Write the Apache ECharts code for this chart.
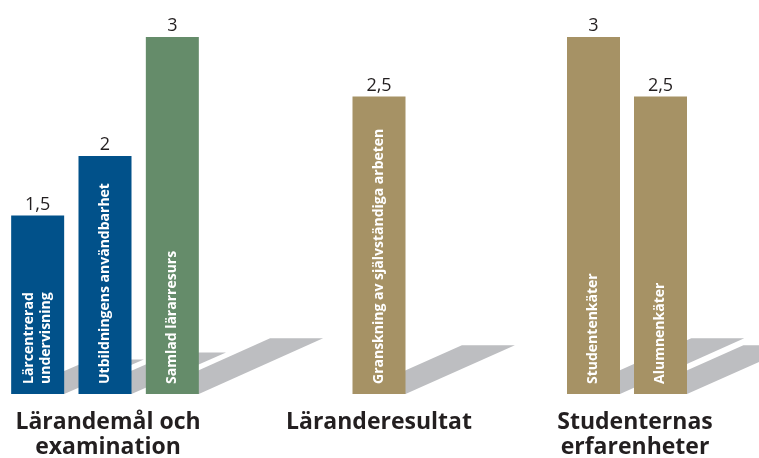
<!DOCTYPE html>
<html>
<head>
<meta charset="utf-8">
<script src="https://cdn.jsdelivr.net/npm/echarts@6/dist/echarts.min.js"></script>
<style>
  html, body { margin: 0; padding: 0; background: #fff; }
  #chart { width: 759px; height: 458px; }
</style>
</head>
<body>
<div id="chart"></div>
<script>
// data
var groupNames = ['Lärandemål och\nexamination', 'Läranderesultat', 'Studenternas\nerfarenheter'];
var categories1 = ['Lärcentrerad\nundervisning', 'Utbildningens användbarhet', 'Samlad lärarresurs'];
var values1 = [1.5, 2, 3];
var categories2 = ['Granskning av självständiga arbeten'];
var values2 = [2.5];
var categories3 = ['Studentenkäter', 'Alumnenkäter'];
var values3 = [3, 2.5];

var blue = '#01518a', green = '#658c6a', tan = '#a69265', shadowGray = '#bdbec1';
var colors = [[blue, blue, green], [tan], [tan, tan]];
var categories = [categories1, categories2, categories3];
var values = [values1, values2, values3];

var barW = 53;
var font = '"Open Sans", Lato, sans-serif';

var chart = echarts.init(document.getElementById('chart'));

// one grid per group
var grids = [
    { left: 4, width: 202, top: 37, bottom: 64, outerBoundsMode: 'none' },
    { left: 345, width: 68, top: 37, bottom: 64, outerBoundsMode: 'none' },
    { left: 560, width: 134, top: 37, bottom: 64, outerBoundsMode: 'none' }
];
var namePadding = [[0, 0, 0, 6], [0, 0, 0, 0], [0, 0, 0, 16]];

// shadow on the ground, drawn behind the bars
function renderShadow(params, api) {
    var base = api.coord([api.value(0), 0]);
    var top = api.coord([api.value(0), api.value(1)]);
    var h = base[1] - top[1];
    var dx = 0.25 * h + 35;
    var dy = 0.12 * h + 13;
    var half = barW / 2;
    return {
        type: 'polygon',
        shape: {
            points: [
                [base[0] - half, base[1]],
                [base[0] + half, base[1]],
                [base[0] + half + dx, base[1] - dy],
                [base[0] - half + dx, base[1] - dy]
            ]
        },
        style: { fill: shadowGray }
    };
}

var xAxes = [], yAxes = [], series = [];
for (var g = 0; g < 3; g++) {
    xAxes.push({
        type: 'category',
        gridIndex: g,
        data: categories[g],
        axisLine: { show: false },
        axisTick: { show: false },
        axisLabel: { show: false },
        splitLine: { show: false },
        name: groupNames[g],
        nameLocation: 'middle',
        nameGap: 16,
        nameTextStyle: {
            fontSize: 23,
            fontWeight: 'bold',
            color: '#231f20',
            lineHeight: 25,
            fontFamily: font,
            padding: namePadding[g]
        }
    });
    yAxes.push({
        type: 'value',
        gridIndex: g,
        min: 0,
        max: 3,
        show: false
    });
    series.push({
        type: 'custom',
        xAxisIndex: g,
        yAxisIndex: g,
        z: 1,
        silent: true,
        clip: false,
        renderItem: renderShadow,
        data: values[g].map(function (v, i) { return [i, v]; })
    });
    series.push({
        type: 'bar',
        xAxisIndex: g,
        yAxisIndex: g,
        z: 2,
        barWidth: barW,
        silent: true,
        data: values[g].map(function (v, i) {
            return { value: v, itemStyle: { color: colors[g][i] } };
        }),
        label: {
            show: true,
            position: 'top',
            distance: 2,
            fontSize: 18,
            color: '#231f20',
            fontFamily: font,
            formatter: function (p) { return String(p.value).replace('.', ','); }
        }
    });
    // category names written inside the bars
    series.push({
        type: 'bar',
        xAxisIndex: g,
        yAxisIndex: g,
        z: 3,
        barWidth: barW,
        barGap: '-100%',
        silent: true,
        data: values[g],
        itemStyle: { color: 'rgba(0,0,0,0)' },
        label: {
            show: true,
            position: 'insideBottom',
            distance: 10,
            rotate: 90,
            align: 'left',
            verticalAlign: 'middle',
            fontSize: 14,
            fontWeight: 'bold',
            lineHeight: 17,
            color: '#fff',
            fontFamily: font,
            formatter: '{b}'
        }
    });
}

var option = {
    animation: false,
    backgroundColor: '#fff',
    textStyle: { fontFamily: font },
    grid: grids,
    xAxis: xAxes,
    yAxis: yAxes,
    series: series
};
chart.setOption(option);
</script>
</body>
</html>
